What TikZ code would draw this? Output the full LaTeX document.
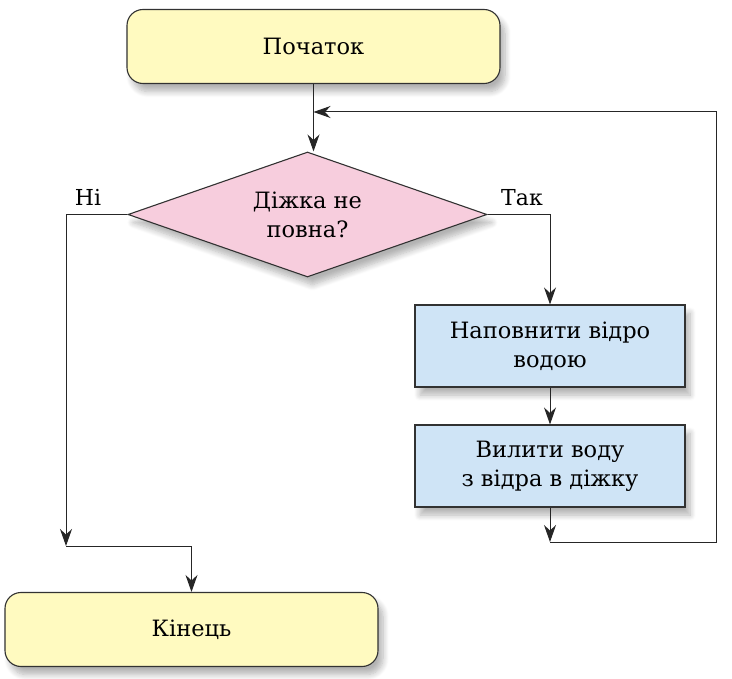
\documentclass[tikz,border=0pt]{standalone}
\usepackage{fontspec}
\setmainfont{DejaVu Serif}
\usetikzlibrary{shapes.geometric,arrows.meta,shadows.blur}
\definecolor{termfill}{RGB}{255,250,192}
\definecolor{decfill}{RGB}{247,205,221}
\definecolor{procfill}{RGB}{207,228,246}
\definecolor{edge}{RGB}{50,50,50}
\tikzset{
  shad/.style={blur shadow={shadow xshift=5pt,shadow yshift=-8pt,shadow blur steps=8,shadow blur radius=6pt,shadow opacity=30}},
  term/.style={draw=edge,line width=1.1pt,fill=termfill,rounded corners=16pt,minimum width=373pt,minimum height=74pt,inner sep=0pt,font=\fontsize{22.5}{27}\selectfont,shad},
  dec/.style={draw=edge,line width=1.1pt,fill=decfill,diamond,aspect=2.87,minimum width=359pt,minimum height=125pt,inner sep=0pt,align=center,font=\fontsize{22.5}{29}\selectfont,shad},
  proc/.style={draw=edge,line width=1.1pt,fill=procfill,minimum width=270pt,minimum height=82pt,inner sep=0pt,align=center,font=\fontsize{22.5}{29}\selectfont,shad},
  lab/.style={font=\fontsize{22}{26}\selectfont,inner sep=0pt},
  arr/.style={draw=black!85,line width=1pt,-{Stealth[length=17pt,width=12pt]}},
}
\begin{document}
\begin{tikzpicture}[x=1pt,y=-1pt]
\useasboundingbox (0,0) rectangle (732,679);
\node[term] (start) at (313.5,46.5) {Початок};
\node[dec] (dia) at (307.5,214.5) {Діжка не\\повна?};
\node[proc] (b1) at (550,346) {Наповнити відро\\водою};
\node[proc] (b2) at (550,466) {Вилити воду\\з відра в діжку};
\node[term] (end) at (191.5,629.5) {Кінець};
\node[lab,anchor=base] (no) at (88,206) {Ні};
\node[lab,anchor=base] (yes) at (522,206) {Так};
\coordinate (loopin) at (313.5,112);
\coordinate (rc) at (716,112);
\coordinate (j2) at (550,542);
\coordinate (j1) at (66,546);
\draw[arr] (start.south) -- (start.south |- dia.north);
\draw[arr] (dia.east) -| (b1.north);
\draw[arr] (b1.south) -- (b2.north);
\draw[arr] (b2.south) -- (j2);
\draw[arr] (j2) -| (rc) -- (loopin);
\draw[arr] (dia.west) -| (j1);
\draw[arr] (j1) -| (end.north);
\end{tikzpicture}
\end{document}
